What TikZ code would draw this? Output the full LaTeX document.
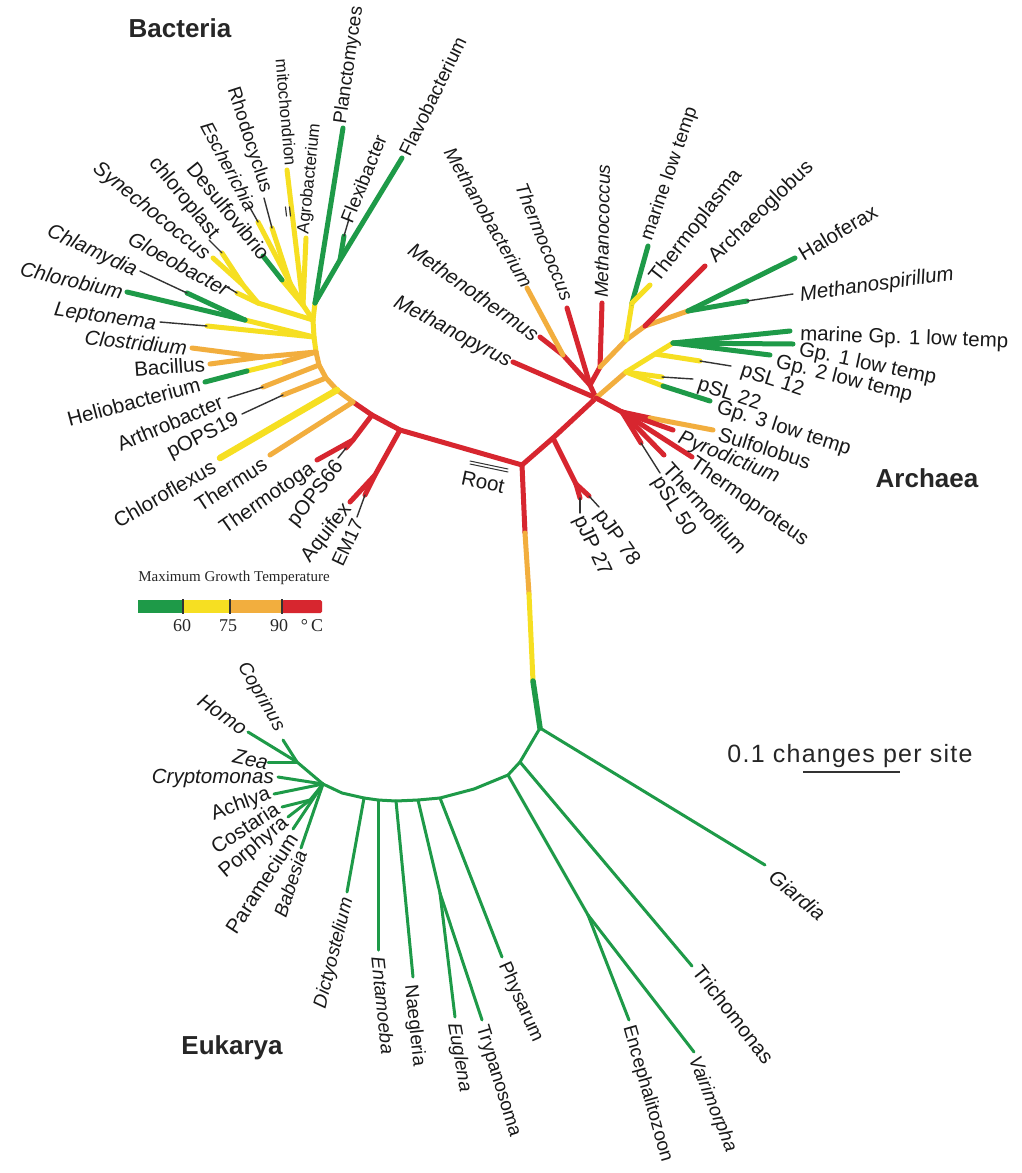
\documentclass[tikz,border=0pt]{standalone}
\usepackage{fontspec}
\setmainfont{Liberation Sans}
\newfontfamily\legserif{Liberation Serif}
\newfontfamily\scalefam[LetterSpace=5]{Liberation Sans}
\definecolor{tg}{HTML}{1E9A48}
\definecolor{ty}{HTML}{F6DF22}
\definecolor{to}{HTML}{F2AE3E}
\definecolor{tr}{HTML}{D7262F}
\tikzset{
  br/.style={line width=5pt, line cap=round, line join=round},
  bg/.style={br, draw=tg},
  by/.style={br, draw=ty},
  bo/.style={br, draw=to},
  brd/.style={br, draw=tr},
  bk/.style={line width=1.4pt, draw=black!80, line cap=round},
  eg/.style={line width=3pt, draw=tg, line cap=round, line join=round},
  lu/.style={font=\fontsize{20.5}{22}\selectfont, inner sep=0pt, text=black!90},
  li/.style={font=\fontsize{20.5}{22}\selectfont\itshape, inner sep=0pt, text=black!90},
  steep/.style={font=\fontsize{19}{21}\selectfont},
  steepi/.style={font=\fontsize{19}{21}\selectfont\itshape},
  dom/.style={font=\fontsize{26}{28}\selectfont\bfseries, text=black!85},
}
\begin{document}
\begin{tikzpicture}[x=1pt,y=-1pt]
\useasboundingbox (0,0) rectangle (1022,1173);
\fill[white] (0,0) rectangle (1022,1173);

% ---------- coordinates ----------
\coordinate (R0) at (522,465);
\coordinate (T1) at (525,533); \coordinate (T2) at (529,594);
\coordinate (T3) at (533,681); \coordinate (E0) at (540,728);
% bacteria
\coordinate (B1) at (400,430); \coordinate (B2) at (372,415); \coordinate (B3) at (353,402);
\coordinate (Bb1) at (337,390); \coordinate (Bb2) at (326,378); \coordinate (Bb3) at (319,365);
\coordinate (Bb4) at (316,352); \coordinate (Bb5) at (314,337); \coordinate (Bb6) at (313,320);
\coordinate (G0) at (315,303);
\coordinate (Aq0) at (375,475); \coordinate (tAquifex) at (350,502);
\coordinate (EMa) at (365,495); \coordinate (tEM17) at (357,517);
\coordinate (Tt0) at (353,440); \coordinate (tThermotoga) at (317,460);
\coordinate (pO66a) at (346,448); \coordinate (tpOPS66) at (338,458);
\coordinate (tThermus) at (270,455);
\coordinate (tChloroflexus) at (220,458);
\coordinate (pO19a) at (283,395); \coordinate (tpOPS19) at (242,414);
\coordinate (Ara) at (263,387); \coordinate (tArthro) at (228,398);
\coordinate (He1) at (280,363); \coordinate (He2) at (247,371); \coordinate (tHelio) at (205,382);
\coordinate (Bc) at (262,357); \coordinate (tClostr) at (192,348); \coordinate (tBacil) at (210,364);
\coordinate (Le1) at (207,326); \coordinate (tLepto) at (160,322);
\coordinate (Cc) at (245,320); \coordinate (tChlorob) at (127,292);
\coordinate (Chl1) at (187,293); \coordinate (tChlamy) at (140,271);
\coordinate (Cy) at (258,303); \coordinate (Cy1) at (243,285);
\coordinate (Gl1) at (237,293); \coordinate (tGloeo) at (227,287);
\coordinate (tSynecho) at (213,258);
\coordinate (Cp1) at (222,253); \coordinate (tChloropl) at (209,240);
\coordinate (Pr) at (303,305); \coordinate (Pr2) at (290,283);
\coordinate (De1) at (282,280); \coordinate (tDesulfo) at (263,256);
\coordinate (Es1) at (258,222); \coordinate (tEscher) at (249,206);
\coordinate (Rh1) at (272,228); \coordinate (tRhodo) at (264,198);
\coordinate (tMito) at (287,170);
\coordinate (tAgro) at (306,238);
\coordinate (tPlancto) at (343,128);
\coordinate (G1) at (340,260); \coordinate (tFlavo) at (402,158);
\coordinate (Fx1) at (344,236); \coordinate (tFlexi) at (349,219);
% archaea
\coordinate (A1) at (553,438); \coordinate (A2) at (596,398);
\coordinate (P1) at (576,484); \coordinate (P78) at (589,496); \coordinate (P27) at (580,498);
\coordinate (tpJP78) at (599,507); \coordinate (tpJP27) at (580,513);
\coordinate (tMpyrus) at (513,362);
\coordinate (M1) at (590,385); \coordinate (M2) at (600,367); \coordinate (Mt) at (563,355);
\coordinate (tMtherm) at (540,337); \coordinate (tMbact) at (527,288);
\coordinate (tTcoccus) at (567,308); \coordinate (tMcoccus) at (602,303);
\coordinate (Eu2) at (626,340); \coordinate (Eu3) at (645,326); \coordinate (Eu4) at (688,311);
\coordinate (T0) at (632,303); \coordinate (tMarLow) at (648,246); \coordinate (tTplasma) at (650,285);
\coordinate (tArchaeo) at (705,266);
\coordinate (tHalo) at (795,258); \coordinate (Ms1) at (747,301); \coordinate (tMspir) at (793,294);
\coordinate (Y0) at (626,372); \coordinate (Y1) at (673,343); \coordinate (Y1m) at (655,354);
\coordinate (tMGp1) at (790,331); \coordinate (tGp1) at (793,344); \coordinate (tGp2) at (770,355);
\coordinate (S12) at (700,361); \coordinate (tpSL12) at (731,366);
\coordinate (S22) at (662,377); \coordinate (tpSL22) at (693,379);
\coordinate (G3a) at (663,386); \coordinate (tGp3) at (710,401);
\coordinate (C1) at (622,412); \coordinate (Su1) at (650,418); \coordinate (tSulfo) at (713,430);
\coordinate (tPyro) at (673,430); \coordinate (tTprot) at (692,457); \coordinate (tTfil) at (664,455);
\coordinate (S50) at (641,443); \coordinate (tpSL50) at (660,473);
\coordinate (rootA) at (470,461); \coordinate (rootB) at (508,469);
\coordinate (rootC) at (470,464); \coordinate (rootD) at (508,472);
% eukarya
\coordinate (Ek1) at (520,762); \coordinate (Ek2) at (508,775); \coordinate (Ek2b) at (474,789);
\coordinate (Ek3) at (440,798); \coordinate (Ek4) at (418,800); \coordinate (Ek5) at (396,801);
\coordinate (Ek6) at (378,800); \coordinate (Ek7) at (364,798); \coordinate (Ek7b) at (342,793);
\coordinate (Ek8) at (323,784);
\coordinate (tGiardia) at (765,865); \coordinate (tTricho) at (692,966);
\coordinate (Mi) at (588,915); \coordinate (tEnceph) at (629,1020); \coordinate (tVairi) at (694,1052);
\coordinate (tPhys) at (502,957);
\coordinate (Et) at (440,893); \coordinate (tTrypa) at (482,1020); \coordinate (tEugl) at (455,1017);
\coordinate (tNaeg) at (413,977); \coordinate (tEntam) at (378,950); \coordinate (tDicty) at (347,892);
\coordinate (Cn1) at (297,762); \coordinate (tHomo) at (248,732); \coordinate (tCopr) at (283,740);
\coordinate (tZea) at (268,762); \coordinate (tCrypto) at (278,777); \coordinate (tAchlya) at (274,794);
\coordinate (Cb) at (310,800); \coordinate (tCost) at (282,807); \coordinate (tPorph) at (288,817);
\coordinate (tParam) at (293,829); \coordinate (tBabes) at (301,848);

% ---------- trunk ----------
\draw[brd] (R0)--(T1); \draw[bo] (T1)--(T2); \draw[by] (T2)--(T3);
\draw[bg, line width=5.5pt] (T3)--(E0);

% ---------- bacteria ----------
\draw[brd] (R0)--(B1)--(B2)--(B3);
\draw[bo] (B3)--(Bb1)--(Bb2)--(Bb3)--(Bb4);
\draw[by] (Bb4)--(Bb5)--(Bb6)--(G0);
\draw[brd] (B1)--(Aq0)--(tAquifex); \draw[brd] (Aq0)--(EMa); \draw[bk] (EMa)--(tEM17);
\draw[brd] (B2)--(Tt0)--(tThermotoga); \draw[brd] (Tt0)--(pO66a); \draw[bk] (pO66a)--(tpOPS66);
\draw[bo] (B3)--(tThermus);
\draw[by, line width=6.5pt] (Bb1)--(tChloroflexus);
\draw[bo] (Bb2)--(pO19a); \draw[bk] (pO19a)--(tpOPS19);
\draw[bo] (Bb3)--(Ara); \draw[bk] (Ara)--(tArthro);
\draw[bo] (Bb4)--(He1); \draw[by] (He1)--(He2); \draw[bg] (He2)--(tHelio);
\draw[bo] (Bb4)--(Bc); \draw[bo] (Bc)--(tClostr); \draw[bo] (Bc)--(tBacil);
\draw[by] (Bb5)--(Le1); \draw[bk] (Le1)--(tLepto);
\draw[by] (Bb5)--(Cc); \draw[bg] (Cc)--(tChlorob); \draw[bg] (Cc)--(Chl1); \draw[bk] (Chl1)--(tChlamy);
\draw[by] (Bb6)--(Cy); \draw[by] (Cy)--(Gl1); \draw[bk] (Gl1)--(tGloeo);
\draw[by] (Cy)--(Cy1)--(tSynecho); \draw[by] (Cy1)--(Cp1); \draw[bk] (Cp1)--(tChloropl);
\draw[by] (Bb6)--(Pr);
\draw[by] (Pr)--(De1); \draw[bg] (De1)--(tDesulfo);
\draw[by] (Pr)--(Pr2); \draw[by] (Pr2)--(Es1); \draw[bk] (Es1)--(tEscher);
\draw[by] (Pr2)--(Rh1); \draw[bk] (Rh1)--(tRhodo);
\draw[by] (Pr)--(tMito);
\draw[bk, line width=1.2pt] (285.5,207)--(286.5,216); \draw[bk, line width=1.2pt] (289.5,207)--(290.5,216);
\draw[by] (Pr)--(tAgro);
\draw[bg] (G0)--(tPlancto);
\draw[bg] (G0)--(G1)--(tFlavo); \draw[bg] (G1)--(Fx1); \draw[bk] (Fx1)--(tFlexi);

% ---------- archaea ----------
\draw[brd] (R0)--(A1)--(A2);
\draw[brd] (A1)--(P1); \draw[brd] (P1)--(P78); \draw[brd] (P1)--(P27);
\draw[bk] (P78)--(tpJP78); \draw[bk] (P27)--(tpJP27);
\draw[brd] (A2)--(tMpyrus);
\draw[brd] (A2)--(M1)--(M2); \draw[brd] (M1)--(Mt)--(tMtherm); \draw[bo] (Mt)--(tMbact);
\draw[brd] (M1)--(tTcoccus); \draw[brd] (M2)--(tMcoccus);
\draw[bo] (M2)--(Eu2)--(Eu3)--(Eu4);
\draw[by] (Eu2)--(T0); \draw[bg] (T0)--(tMarLow); \draw[by] (T0)--(tTplasma);
\draw[brd] (Eu3)--(tArchaeo);
\draw[bg] (Eu4)--(tHalo); \draw[bg] (Eu4)--(Ms1); \draw[bk] (Ms1)--(tMspir);
\draw[bo] (A2)--(Y0); \draw[by] (Y0)--(Y1m)--(Y1);
\draw[bg] (Y1)--(tMGp1); \draw[bg] (Y1)--(tGp1); \draw[bg] (Y1)--(tGp2);
\draw[by] (Y1m)--(S12); \draw[bk] (S12)--(tpSL12);
\draw[by] (Y0)--(S22); \draw[bk] (S22)--(tpSL22);
\draw[by] (Y0)--(G3a); \draw[bg] (G3a)--(tGp3);
\draw[brd] (A2)--(C1);
\draw[brd] (C1)--(Su1); \draw[bo] (Su1)--(tSulfo);
\draw[brd] (C1)--(tPyro); \draw[brd] (C1)--(tTprot); \draw[brd] (C1)--(tTfil);
\draw[brd] (C1)--(S50); \draw[bk] (S50)--(tpSL50);
\draw[bk, line width=1pt] (rootA)--(rootB); \draw[bk, line width=1pt] (rootC)--(rootD);

% ---------- eukarya ----------
\draw[eg] (E0)--(tGiardia);
\draw[eg] (E0)--(Ek1)--(Ek2)--(Ek2b)--(Ek3)--(Ek4)--(Ek5)--(Ek6)--(Ek7)--(Ek7b)--(Ek8);
\draw[eg] (Ek1)--(tTricho);
\draw[eg] (Ek2)--(Mi); \draw[eg] (Mi)--(tEnceph); \draw[eg] (Mi)--(tVairi);
\draw[eg] (Ek3)--(tPhys);
\draw[eg] (Ek4)--(Et); \draw[eg] (Et)--(tTrypa); \draw[eg] (Et)--(tEugl);
\draw[eg] (Ek5)--(tNaeg); \draw[eg] (Ek6)--(tEntam); \draw[eg] (Ek7)--(tDicty);
\draw[eg] (Ek8)--(Cn1); \draw[eg] (Cn1)--(tHomo); \draw[eg] (Cn1)--(tCopr); \draw[eg] (Cn1)--(tZea);
\draw[eg] (Ek8)--(tCrypto); \draw[eg] (Ek8)--(tAchlya);
\draw[eg] (Ek8)--(Cb); \draw[eg] (Cb)--(tCost); \draw[eg] (Cb)--(tPorph);
\draw[eg] (Ek8)--(tParam); \draw[eg] (Ek8)--(tBabes);

% ---------- labels: bacteria ----------
\node[dom] (lBact) at (180,28) {Bacteria};
\node[lu, steep, anchor=west, rotate=82] (lPlancto) at (341,124) {Planctomyces};
\node[lu, font=\fontsize{17}{19}\selectfont, anchor=east, rotate=-85] (lMito) at (291,166) {mitochondrion};
\node[lu, steep, anchor=east, rotate=-72] (lRhodo) at (266,192) {Rhodocyclus};
\node[li, steepi, anchor=east, rotate=-62] (lEscher) at (252,210) {Escherichia};
\node[lu, anchor=east, rotate=-51] (lDesulfo) at (266,257) {Desulfovibrio};
\node[lu, anchor=east, rotate=-51] (lChloropl) at (215,237) {chloroplast};
\node[li, anchor=east, rotate=-39] (lSynecho) at (207,257) {Synechococcus};
\node[li, anchor=east, rotate=-29] (lGloeo) at (228,291) {Gloeobacter};
\node[li, anchor=east, rotate=-25] (lChlamy) at (136,272) {Chlamydia};
\node[li, anchor=east, rotate=-13] (lChlorob) at (123,292) {Chlorobium};
\node[li, anchor=east, rotate=-8] (lLepto) at (156,325) {Leptonema};
\node[li, anchor=east, rotate=-6] (lClostr) at (187,348) {Clostridium};
\node[lu, anchor=east, rotate=4] (lBacil) at (205,364) {Bacillus};
\node[lu, anchor=east, rotate=15] (lHelio) at (200,384) {Heliobacterium};
\node[lu, anchor=east, rotate=23] (lArthro) at (222,401) {Arthrobacter};
\node[lu, anchor=east, rotate=27] (lpOPS19) at (238,419) {pOPS19};
\node[lu, anchor=east, rotate=30] (lChlorofl) at (214,465) {Chloroflexus};
\node[lu, anchor=east, rotate=33] (lThermus) at (265,462) {Thermus};
\node[lu, anchor=east, rotate=35] (lThermotoga) at (313,467) {Thermotoga};
\node[lu, anchor=east, rotate=52] (lpOPS66) at (340,463) {pOPS66};
\node[lu, anchor=east, rotate=52] (lAquifex) at (348,506) {Aquifex};
\node[lu, steep, anchor=east, rotate=65] (lEM17) at (358,520) {EM17};
\node[lu, font=\fontsize{17}{19}\selectfont, anchor=west, rotate=84] (lAgro) at (304,234) {Agrobacterium};
\node[lu, steep, anchor=west, rotate=68] (lFlexi) at (346,222) {Flexibacter};
\node[lu, steep, anchor=west, rotate=64] (lFlavo) at (404,155) {Flavobacterium};

% ---------- labels: archaea ----------
\node[dom] (lArch) at (927,478) {Archaea};
\node[li, anchor=east, rotate=-28] (lMpyrus) at (510,363) {Methanopyrus};
\node[li, anchor=east, rotate=-35] (lMtherm) at (537,336) {Methenothermus};
\node[li, steepi, anchor=east, rotate=-60] (lMbact) at (528,286) {Methanobacterium};
\node[li, steepi, anchor=east, rotate=-68] (lTcoccus) at (568,300) {Thermococcus};
\node[li, steepi, anchor=west, rotate=89] (lMcoccus) at (601,298) {Methanococcus};
\node[lu, steep, anchor=west, rotate=71] (lMarLow) at (647,240) {marine low temp};
\node[lu, anchor=west, rotate=52] (lTplasma) at (654,280) {Thermoplasma};
\node[lu, anchor=west, rotate=44] (lArchaeo) at (712,260) {Archaeoglobus};
\node[lu, anchor=west, rotate=31] (lHalo) at (800,255) {Haloferax};
\node[li, anchor=west, rotate=8] (lMspir) at (800,296) {Methanospirillum};
\node[lu, anchor=west, rotate=-2] (lMGp1) at (800,335) {marine Gp. 1 low temp};
\node[lu, anchor=west, rotate=-12] (lGp1) at (799,350) {Gp. 1 low temp};
\node[lu, anchor=west, rotate=-14] (lGp2) at (776,362) {Gp. 2 low temp};
\node[lu, anchor=west, rotate=-18] (lpSL12) at (741,371) {pSL 12};
\node[lu, anchor=west, rotate=-18] (lpSL22) at (698,385) {pSL 22};
\node[lu, anchor=west, rotate=-18] (lGp3) at (717,407) {Gp. 3 low temp};
\node[lu, anchor=west, rotate=-18] (lSulfo) at (719,433) {Sulfolobus};
\node[li, anchor=west, rotate=-22] (lPyro) at (679,438) {Pyrodictium};
\node[lu, anchor=west, rotate=-35] (lTprot) at (692,462) {Thermoproteus};
\node[lu, anchor=west, rotate=-48] (lTfil) at (667,465) {Thermofilum};
\node[lu, anchor=west, rotate=-58] (lpSL50) at (656,479) {pSL 50};
\node[lu, anchor=west, rotate=-55] (lpJP78) at (598,512) {pJP 78};
\node[lu, anchor=west, rotate=-65] (lpJP27) at (578,517) {pJP 27};
\node[lu, rotate=-12] (lRoot) at (483,482) {Root};

% ---------- labels: eukarya ----------
\node[dom] (lEuk) at (232,1048) {Eukarya};
\node[li, anchor=west, rotate=-40] (lGiardia) at (772,874) {Giardia};
\node[lu, anchor=west, rotate=-52] (lTricho) at (697,968) {Trichomonas};
\node[li, steepi, anchor=west, rotate=-68] (lVairi) at (693,1057) {Vairimorpha};
\node[lu, steep, anchor=west, rotate=-74] (lEnceph) at (628,1026) {Encephalitozoon};
\node[lu, steep, anchor=west, rotate=-66] (lPhys) at (503,963) {Physarum};
\node[lu, steep, anchor=west, rotate=-73] (lTrypa) at (481,1026) {Trypanosoma};
\node[li, steepi, anchor=west, rotate=-80] (lEugl) at (453,1023) {Euglena};
\node[lu, steep, anchor=west, rotate=-84] (lNaeg) at (410,985) {Naegleria};
\node[li, steepi, anchor=west, rotate=-84] (lEntam) at (378,957) {Entamoeba};
\node[li, steepi, anchor=east, rotate=76] (lDicty) at (348,898) {Dictyostelium};
\node[li, steepi, anchor=east, rotate=72] (lBabes) at (301,851) {Babesia};
\node[lu, anchor=east, rotate=57] (lParam) at (293,835) {Paramecium};
\node[lu, anchor=east, rotate=40] (lPorph) at (286,821) {Porphyra};
\node[lu, anchor=east, rotate=33] (lCost) at (277,807) {Costaria};
\node[lu, anchor=east, rotate=20] (lAchlya) at (270,794) {Achlya};
\node[li, anchor=east] (lCrypto) at (274,778) {Cryptomonas};
\node[li, anchor=east, rotate=-12] (lZea) at (268,763) {Zea};
\node[li, anchor=east, rotate=-35] (lHomo) at (245,730) {Homo};
\node[li, steepi, anchor=east, rotate=-60] (lCopr) at (280,730) {Coprinus};

% ---------- legend ----------
\node[font=\legserif\fontsize{15}{17}\selectfont, text=black!85] (legT) at (234,578) {Maximum Growth Temperature};
\fill[tg] (138,600) rectangle (183,613);
\fill[ty] (183,600) rectangle (230,613);
\fill[to] (230,600) rectangle (282,613);
\fill[tr, rounded corners=1.5pt] (282,600) rectangle (322,613);
\draw[line width=2pt, black!80] (183,599)--(183,614) (230,599)--(230,614) (282,599)--(282,614);
\node[font=\legserif\fontsize{18}{20}\selectfont, text=black!85] (n60) at (182,626) {60};
\node[font=\legserif\fontsize{18}{20}\selectfont, text=black!85] (n75) at (228,626) {75};
\node[font=\legserif\fontsize{18}{20}\selectfont, text=black!85] (n90) at (279,626) {90};
\node[font=\legserif\fontsize{18}{20}\selectfont, text=black!85] (nC) at (312,626) {\textdegree\,C};

% ---------- scale ----------
\node[font=\scalefam\fontsize{25}{27}\selectfont, text=black!85] (scaleT) at (850,756) {0.1 changes per site};
\coordinate (scA) at (803,772); \coordinate (scB) at (900,772);
\draw[line width=2.2pt, black!80] (scA)--(scB);
\end{tikzpicture}
\end{document}
